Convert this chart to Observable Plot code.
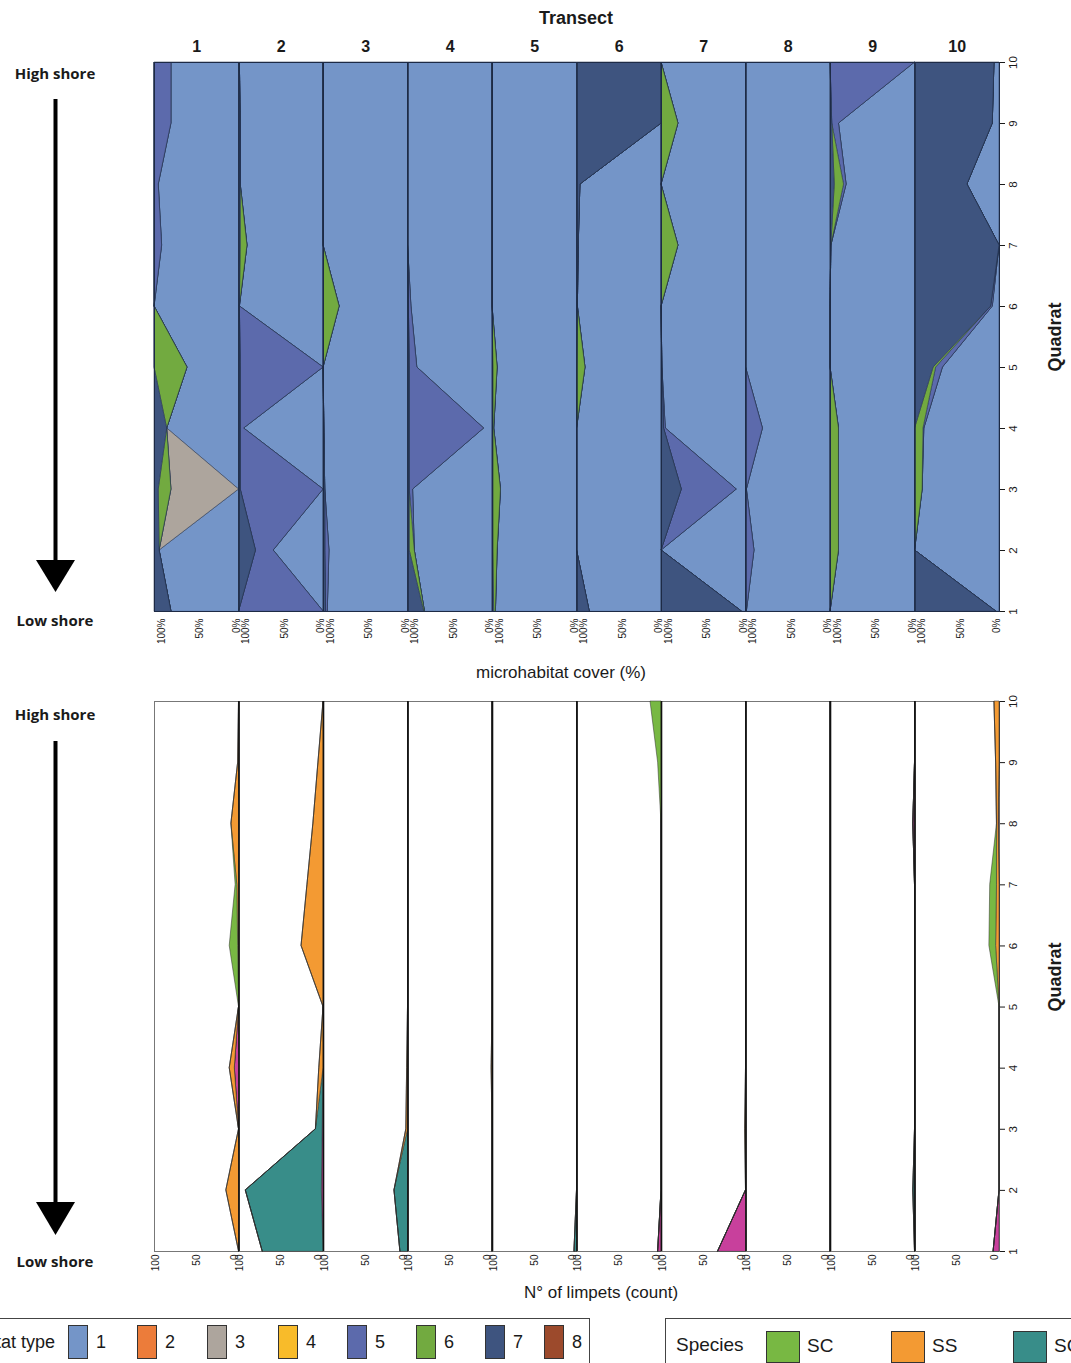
<!DOCTYPE html>
<html><head><meta charset="utf-8">
<script src="https://cdn.jsdelivr.net/npm/d3@7"></script>
<script src="https://cdn.jsdelivr.net/npm/@observablehq/plot@0.6"></script>
<style>
html,body{margin:0;padding:0;background:#fff;}
body{width:1071px;height:1363px;overflow:hidden;font-family:"Liberation Sans",Arial,sans-serif;color:#1a1a1a;}
#page{position:relative;width:1071px;height:1363px;overflow:hidden;}
.abs{position:absolute;}
.shore{position:absolute;font-family:"Open Sans",sans-serif;font-weight:700;font-size:15px;width:120px;text-align:center;line-height:18px;}
.vlab{position:absolute;font-weight:700;font-size:18px;white-space:nowrap;transform:translate(-50%,-50%) rotate(-90deg);}
.cap{position:absolute;font-size:17px;white-space:nowrap;transform:translateX(-50%);}
.legbox{position:absolute;border:1.5px solid #444;background:#fff;}
.sw{position:absolute;border:1px solid #333;box-sizing:border-box;}
.lt{position:absolute;white-space:nowrap;}
</style></head>
<body><div id="page"></div>
<script>
// ---------- data ----------
const transects = [1, 2, 3, 4, 5, 6, 7, 8, 9, 10];
const quadrats = [1, 2, 3, 4, 5, 6, 7, 8, 9, 10];

const habitatTypes = ["1", "2", "3", "4", "5", "6", "7", "8"];
const habitatColors = ["#7495c8", "#ec7c3a", "#ada59d", "#f8bb2a", "#5c6aac", "#72aa40", "#3e547f", "#9c4a2c"];

// microhabitat cover (%) — rows: transect 1..10, columns: quadrat 1..10
const coverType1 = [
  [80, 94, 0, 85, 61, 100, 91, 95, 80, 80],
  [0, 59, 0, 94, 0, 99, 90, 98, 98, 99],
  [95, 93, 98, 99, 100, 81, 100, 100, 100, 100],
  [80, 92, 94, 10, 89, 96, 100, 100, 100, 100],
  [96, 94, 90, 98, 94, 100, 100, 100, 100, 100],
  [85, 100, 100, 100, 90, 99, 98, 96, 0, 0],
  [5, 100, 11, 95, 99, 100, 80, 100, 80, 100],
  [99, 90, 99, 80, 100, 100, 100, 100, 100, 100],
  [100, 90, 90, 90, 100, 100, 99, 81, 90, 0],
  [4, 100, 91, 89, 67, 8, 0, 38, 8, 6]
];
const coverType3 = [
  [0, 0, 80, 0, 0, 0, 0, 0, 0, 0],
  [0, 0, 0, 0, 0, 0, 0, 0, 0, 0],
  [0, 0, 0, 0, 0, 0, 0, 0, 0, 0],
  [0, 0, 0, 0, 0, 0, 0, 0, 0, 0],
  [0, 0, 0, 0, 0, 0, 0, 0, 0, 0],
  [0, 0, 0, 0, 0, 0, 0, 0, 0, 0],
  [0, 0, 0, 0, 0, 0, 0, 0, 0, 0],
  [0, 0, 0, 0, 0, 0, 0, 0, 0, 0],
  [0, 0, 0, 0, 0, 0, 0, 0, 0, 0],
  [0, 0, 0, 0, 0, 0, 0, 0, 0, 0]
];
const coverType5 = [
  [0, 0, 0, 0, 0, 0, 9, 5, 20, 20],
  [100, 21, 98, 4, 98, 0, 0, 0, 0, 0],
  [2, 5, 0, 0, 0, 0, 0, 0, 0, 0],
  [0, 0, 4, 88, 9, 3, 0, 0, 0, 0],
  [0, 0, 0, 0, 0, 0, 0, 0, 0, 0],
  [0, 0, 0, 0, 0, 0, 0, 0, 0, 0],
  [0, 0, 65, 2, 0, 0, 0, 0, 0, 0],
  [1, 10, 1, 20, 0, 0, 0, 0, 0, 0],
  [0, 0, 0, 0, 0, 0, 0, 3, 8, 100],
  [0, 0, 0, 1, 8, 2, 0, 0, 0, 0]
];
const coverType6 = [
  [0, 0, 15, 0, 39, 0, 0, 0, 0, 0],
  [0, 0, 0, 0, 0, 0, 8, 0, 0, 0],
  [0, 0, 0, 0, 0, 19, 0, 0, 0, 0],
  [1, 6, 0, 0, 0, 0, 0, 0, 0, 0],
  [2, 5, 9, 1, 5, 0, 0, 0, 0, 0],
  [0, 0, 0, 0, 10, 0, 0, 0, 0, 0],
  [0, 0, 0, 0, 0, 0, 20, 0, 20, 0],
  [0, 0, 0, 0, 0, 0, 0, 0, 0, 0],
  [0, 10, 10, 10, 0, 0, 0, 11, 0, 0],
  [0, 0, 9, 10, 3, 0, 0, 0, 0, 0]
];
const coverType7 = [
  [20, 6, 5, 15, 0, 0, 0, 0, 0, 0],
  [0, 20, 2, 2, 2, 1, 2, 2, 2, 1],
  [3, 2, 2, 1, 0, 0, 0, 0, 0, 0],
  [19, 2, 2, 2, 2, 1, 0, 0, 0, 0],
  [2, 1, 1, 1, 1, 0, 0, 0, 0, 0],
  [15, 0, 0, 0, 0, 1, 2, 4, 100, 100],
  [95, 0, 24, 3, 1, 0, 0, 0, 0, 0],
  [0, 0, 0, 0, 0, 0, 0, 0, 0, 0],
  [0, 0, 0, 0, 0, 0, 1, 5, 2, 0],
  [96, 0, 0, 0, 22, 90, 100, 62, 92, 94]
];

const speciesKeys = ["SC", "SS", "SC3", "S4"];
const speciesLegend = ["SC", "SS", "SC"];
const speciesColors = ["#78b843", "#f39a33", "#388d89", "#c8409c"];

// number of limpets (count) — rows: transect 1..10, columns: quadrat 1..10
const limpetSC = [
  [0, 0, 0, 0, 0, 10, 2, 0, 0, 0],
  [0, 0, 0, 0, 0, 0, 0, 0, 0, 0],
  [0, 0, 0, 0, 0, 0, 0, 0, 0, 0],
  [0, 0, 0, 0, 0, 0, 0, 0, 0, 0],
  [0, 0, 0, 0, 0, 0, 0, 0, 0, 0],
  [0, 0, 0, 0, 0, 0, 0, 0, 4, 13],
  [0, 0, 0, 0, 0, 0, 0, 0, 0, 0],
  [0, 0, 0, 0, 0, 0, 0, 0, 0, 0],
  [0, 0, 0, 0, 0, 0, 0, 0, 0, 0],
  [0, 0, 0, 0, 0, 8, 8, 0, 0, 0]
];
const limpetSS = [
  [0, 15, 0, 6, 0, 1, 2, 9, 1, 0],
  [0, 0, 0, 5, 0, 26, 19, 12, 6, 0],
  [0, 0, 2, 1, 0, 0, 0, 0, 0, 0],
  [0, 0, 0, 1, 0, 0, 0, 0, 0, 0],
  [0, 0, 0, 0, 0, 0, 0, 0, 0, 0],
  [0, 0, 0, 0, 0, 0, 0, 0, 0, 0],
  [0, 0, 1, 0, 0, 0, 0, 0, 0, 0],
  [0, 0, 0, 0, 0, 0, 0, 0, 0, 0],
  [0, 0, 0, 0, 0, 0, 0, 0, 0, 0],
  [0, 0, 0, 0, 0, 4, 3, 2, 4, 6]
];
const limpetSC3 = [
  [0, 0, 0, 0, 0, 0, 0, 0, 0, 0],
  [72, 90, 8, 0, 0, 0, 0, 0, 0, 0],
  [9, 16, 0, 0, 0, 0, 0, 0, 0, 0],
  [0, 0, 0, 0, 0, 0, 0, 0, 0, 0],
  [3, 0, 0, 0, 0, 0, 0, 0, 0, 0],
  [0, 0, 0, 0, 0, 0, 0, 0, 0, 0],
  [0, 0, 0, 0, 0, 0, 0, 0, 0, 0],
  [0, 0, 0, 0, 0, 0, 0, 0, 0, 0],
  [0, 2, 0, 0, 0, 0, 0, 0, 0, 0],
  [0, 0, 0, 0, 0, 0, 0, 0, 0, 0]
];
const limpetS4 = [
  [0, 0, 0, 5, 0, 0, 0, 0, 0, 0],
  [0, 2, 1, 0, 0, 0, 0, 0, 0, 0],
  [0, 0, 0, 0, 0, 0, 0, 0, 0, 0],
  [0, 0, 0, 0, 0, 0, 0, 0, 0, 0],
  [0, 0, 0, 0, 0, 0, 0, 0, 0, 0],
  [4, 0, 0, 0, 0, 0, 0, 0, 0, 0],
  [33, 0, 0, 0, 0, 0, 0, 0, 0, 0],
  [0, 0, 0, 0, 0, 0, 0, 0, 0, 0],
  [0, 0, 0, 0, 0, 0, 0, 2, 0, 0],
  [7, 0, 0, 0, 0, 0, 0, 1, 0, 0]
];

// ---------- tidy tables (stack order = first series at 0 %, i.e. right edge) ----------
function tidy(series) {
  return series.flatMap(([key, m]) =>
    transects.flatMap((t, i) => quadrats.map((q, j) => ({transect: t, quadrat: q, key, value: m[i][j]}))));
}
const coverRows = tidy([["1", coverType1], ["3", coverType3], ["5", coverType5], ["6", coverType6], ["7", coverType7]]);
const limpetRows = tidy([["S4", limpetS4], ["SC3", limpetSC3], ["SS", limpetSS], ["SC", limpetSC]]);

const FONT = "'Liberation Sans', Arial, sans-serif";
const page = document.getElementById("page");

function xTick(v, fmt, dx, pad) {
  return Plot.axisX({ticks: [v], tickFormat: fmt, tickRotate: -90, tickSize: 0, tickPadding: pad, dx, fontSize: 10, label: null});
}

// ---------- top panel: microhabitat cover ----------
const topPlot = Plot.plot({
  width: 1071, height: 650,
  marginTop: 62, marginBottom: 39, marginLeft: 154, marginRight: 72,
  style: {fontFamily: FONT, background: "transparent", color: "#1a1a1a"},
  fx: {domain: transects, padding: 0, round: false},
  x: {domain: [0, 100], reverse: true, label: null},
  y: {domain: [1, 10], label: null},
  color: {type: "ordinal", domain: habitatTypes, range: habitatColors},
  marks: [
    Plot.areaX(coverRows, {fx: "transect", y: "quadrat", x: "value", z: "key", fill: "key", stroke: "#22304d", strokeWidth: 0.6, strokeOpacity: 0.9}),
    Plot.frame({stroke: "#1d2a45", strokeWidth: 1}),
    Plot.axisFx({anchor: "top", tickSize: 0, tickPadding: 11, fontWeight: "bold", fontSize: 16, label: null}),
    xTick(100, d => d + "%", 7, 7),
    xTick(50, d => d + "%", 3.5, 7),
    xTick(0, d => d + "%", -2.5, 7),
    Plot.axisY({anchor: "right", ticks: quadrats, tickSize: 5, tickPadding: 4, tickRotate: -90, lineAnchor: "top", fontSize: 11.5, label: null})
  ]
});
topPlot.style.position = "absolute"; topPlot.style.left = "0px"; topPlot.style.top = "0px";
page.appendChild(topPlot);

// ---------- bottom panel: limpet counts ----------
const bottomPlot = Plot.plot({
  width: 1071, height: 600,
  marginTop: 21, marginBottom: 29, marginLeft: 154, marginRight: 72,
  style: {fontFamily: FONT, background: "transparent", color: "#1a1a1a"},
  fx: {domain: transects, padding: 0, round: false, axis: null},
  x: {domain: [0, 100], reverse: true, label: null},
  y: {domain: [1, 10], label: null},
  color: {type: "ordinal", domain: speciesKeys, range: speciesColors},
  marks: [
    Plot.frame({stroke: "#777", strokeWidth: 1}),
    Plot.areaX(limpetRows, {fx: "transect", y: "quadrat", x: "value", z: "key", fill: "key", stroke: "#2a2a2a", strokeWidth: 0.5}),
    Plot.ruleX(transects.slice(0, 9), {fx: d => d, x: () => 0, stroke: "#111", strokeWidth: 1.6}),
    xTick(100, d => String(d), 1, 3),
    xTick(50, d => String(d), 0, 3),
    xTick(0, d => String(d), -4.5, 3),
    Plot.axisY({anchor: "right", ticks: quadrats, tickSize: 5, tickPadding: 4, tickRotate: -90, lineAnchor: "top", fontSize: 11.5, label: null})
  ]
});
bottomPlot.style.position = "absolute"; bottomPlot.style.left = "0px"; bottomPlot.style.top = "680px";
page.appendChild(bottomPlot);

// ---------- titles / annotations ----------
function addDiv(cls, text, css) {
  const d = document.createElement("div");
  d.className = cls; d.textContent = text;
  Object.assign(d.style, css);
  page.appendChild(d);
  return d;
}
addDiv("abs", "Transect", {left: "476px", width: "200px", top: "8px", textAlign: "center", fontWeight: "700", fontSize: "18px", lineHeight: "20px"});
addDiv("vlab", "Quadrat", {left: "1055px", top: "337px"});
addDiv("vlab", "Quadrat", {left: "1055px", top: "977px"});
addDiv("cap", "microhabitat cover (%)", {left: "561px", top: "663px"});
addDiv("cap", "N° of limpets (count)", {left: "601px", top: "1283px"});
addDiv("shore", "High shore", {left: "-5px", top: "64px"});
addDiv("shore", "Low shore", {left: "-5px", top: "611px"});
addDiv("shore", "High shore", {left: "-5px", top: "705px"});
addDiv("shore", "Low shore", {left: "-5px", top: "1252px"});

const ns = "http://www.w3.org/2000/svg";
const arrows = document.createElementNS(ns, "svg");
arrows.setAttribute("width", "150"); arrows.setAttribute("height", "1363");
arrows.style.position = "absolute"; arrows.style.left = "0"; arrows.style.top = "0";
[[99, 560, 592], [741, 1202, 1235]].forEach(([y0, yh, yt]) => {
  const r = document.createElementNS(ns, "rect");
  r.setAttribute("x", 53.5); r.setAttribute("y", y0); r.setAttribute("width", 4); r.setAttribute("height", yh - y0 + 2);
  r.setAttribute("fill", "#000"); arrows.appendChild(r);
  const p = document.createElementNS(ns, "polygon");
  p.setAttribute("points", `36,${yh} 75,${yh} 55.5,${yt}`); p.setAttribute("fill", "#000");
  arrows.appendChild(p);
});
page.appendChild(arrows);

// ---------- legends (cropped at the page edges, as in the reference) ----------
addDiv("legbox", "", {left: "-200px", top: "1318px", width: "788px", height: "80px"});
addDiv("lt", "Microhabitat type", {right: "1016px", top: "1330px", fontSize: "18px", lineHeight: "24px"});
const habX = [68, 137, 207, 278, 347, 416, 485, 544];
habitatTypes.forEach((t, i) => {
  addDiv("sw", "", {left: habX[i] + "px", top: "1325px", width: "20px", height: "34px", background: habitatColors[i]});
  addDiv("lt", t, {left: (habX[i] + 28) + "px", top: "1330px", fontSize: "18px", lineHeight: "24px"});
});
addDiv("legbox", "", {left: "665px", top: "1318px", width: "500px", height: "80px"});
addDiv("lt", "Species", {left: "676px", top: "1332px", fontSize: "19px", lineHeight: "26px"});
const spX = [766, 891, 1013];
speciesLegend.forEach((s, i) => {
  addDiv("sw", "", {left: spX[i] + "px", top: "1331px", width: "34px", height: "32px", background: speciesColors[i]});
  addDiv("lt", s, {left: (spX[i] + 41) + "px", top: "1333px", fontSize: "19px", lineHeight: "26px"});
});
</script>
</body></html>
